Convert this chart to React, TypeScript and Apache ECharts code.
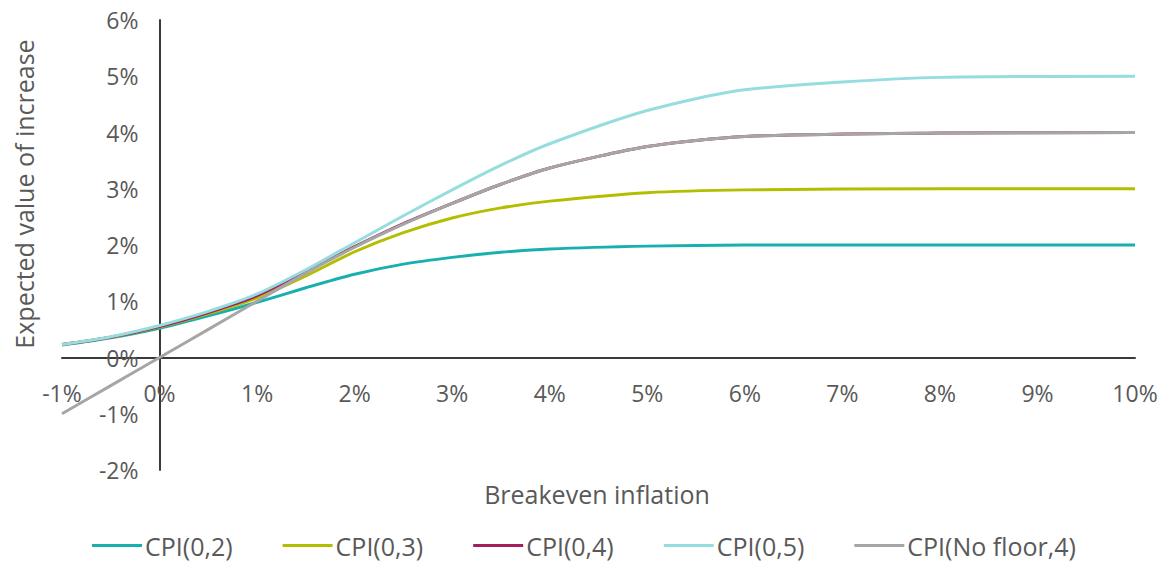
import React, { useEffect, useRef } from "react";
import * as echarts from "echarts";

const xValues = [-1, -0.5, 0, 0.5, 1, 1.5, 2, 2.5, 3, 3.5, 4, 5, 6, 8, 10];
const cpi02 = [0.22, 0.35, 0.52, 0.74, 0.98, 1.24, 1.48, 1.66, 1.78, 1.87, 1.93, 1.98, 2.0, 2.0, 2.0];
const cpi03 = [0.23, 0.36, 0.54, 0.78, 1.06, 1.45, 1.88, 2.22, 2.48, 2.66, 2.78, 2.93, 2.98, 3.0, 3.0];
const cpi04 = [0.23, 0.36, 0.55, 0.8, 1.1, 1.53, 1.97, 2.38, 2.74, 3.08, 3.37, 3.75, 3.93, 3.99, 4.0];
const cpi05 = [0.23, 0.37, 0.57, 0.82, 1.13, 1.56, 2.04, 2.52, 2.98, 3.42, 3.8, 4.39, 4.76, 4.98, 5.0];
const noFloor = [-1.0, -0.5, 0.0, 0.5, 1.0, 1.5, 1.96, 2.37, 2.74, 3.08, 3.37, 3.75, 3.93, 3.99, 4.0];

const seriesNames = ["CPI(0,2)", "CPI(0,3)", "CPI(0,4)", "CPI(0,5)", "CPI(No floor,4)"];
const seriesValues = [cpi02, cpi03, cpi04, cpi05, noFloor];
const seriesColors = ["#17AFAF", "#B4BE00", "#A41D5C", "#95DDDF", "#A6A6A6"];

const FONT = "'Open Sans', 'Noto Sans', sans-serif";
const TEXT = "#595959";

const GRID_LEFT = 62;
const GRID_RIGHT = 33;
const GRID_TOP = 20;
const GRID_BOTTOM = 94;
const X_MIN = -1;
const X_MAX = 10;
const Y_MIN = -2;
const Y_MAX = 6;

export default function App() {
  const ref = useRef<HTMLDivElement>(null);
  useEffect(() => {
    if (!ref.current) return;
    const W = 1168;
    const H = 564;
    const gridW = W - GRID_LEFT - GRID_RIGHT;
    const gridH = H - GRID_TOP - GRID_BOTTOM;
    const yAxisOffset = -((0 - X_MIN) / (X_MAX - X_MIN)) * gridW;
    const xAxisOffset = -((0 - Y_MIN) / (Y_MAX - Y_MIN)) * gridH;
    const chart = echarts.init(ref.current, null, { renderer: "svg" });
    chart.setOption({
      animation: false,
      backgroundColor: "#ffffff",
      textStyle: { fontFamily: FONT },
      grid: { left: GRID_LEFT, right: GRID_RIGHT, top: GRID_TOP, bottom: GRID_BOTTOM, containLabel: false },
      xAxis: {
        type: "value",
        min: X_MIN,
        max: X_MAX,
        interval: 1,
        position: "bottom",
        offset: xAxisOffset,
        axisLine: { onZero: false, lineStyle: { color: "#3a3a3a", width: 2 } },
        axisTick: { show: false },
        splitLine: { show: false },
        axisLabel: {
          margin: 24,
          fontSize: 23,
          color: TEXT,
          fontFamily: FONT,
          formatter: (v: number) => `${v}%`,
        },
      },
      yAxis: {
        type: "value",
        min: Y_MIN,
        max: Y_MAX,
        interval: 1,
        position: "left",
        offset: yAxisOffset,
        axisLine: { show: true, onZero: false, lineStyle: { color: "#3a3a3a", width: 2 } },
        axisTick: { show: false },
        splitLine: { show: false },
        axisLabel: {
          margin: 21,
          fontSize: 23,
          color: TEXT,
          fontFamily: FONT,
          formatter: (v: number) => `${v}%`,
        },
      },
      legend: {
        bottom: 1,
        left: "center",
        icon: "rect",
        itemWidth: 50,
        itemHeight: 3,
        itemGap: 50,
        data: seriesNames,
        textStyle: { fontSize: 25, color: TEXT, fontFamily: FONT, padding: [0, 0, 0, -2] },
      },
      graphic: [
        {
          type: "text",
          x: 24,
          y: 194,
          rotation: Math.PI / 2,
          style: {
            text: "Expected value of increase",
            fontSize: 25,
            fill: TEXT,
            fontFamily: FONT,
            align: "center",
            verticalAlign: "middle",
          },
        },
        {
          type: "text",
          x: 597,
          y: 494,
          style: {
            text: "Breakeven inflation",
            fontSize: 25,
            fill: TEXT,
            fontFamily: FONT,
            align: "center",
            verticalAlign: "middle",
          },
        },
      ],
      series: seriesNames.map((name, i) => ({
        name,
        type: "line",
        data: xValues.map((x, j) => [x, seriesValues[i][j]]),
        symbol: "none",
        smooth: 0.25,
        color: seriesColors[i],
        lineStyle: { width: 3, color: seriesColors[i] },
      })),
    });
    return () => chart.dispose();
  }, []);
  return (
    <div
      ref={ref}
      style={{ position: "absolute", left: 0, top: 0, width: 1168, height: 564 }}
    />
  );
}
